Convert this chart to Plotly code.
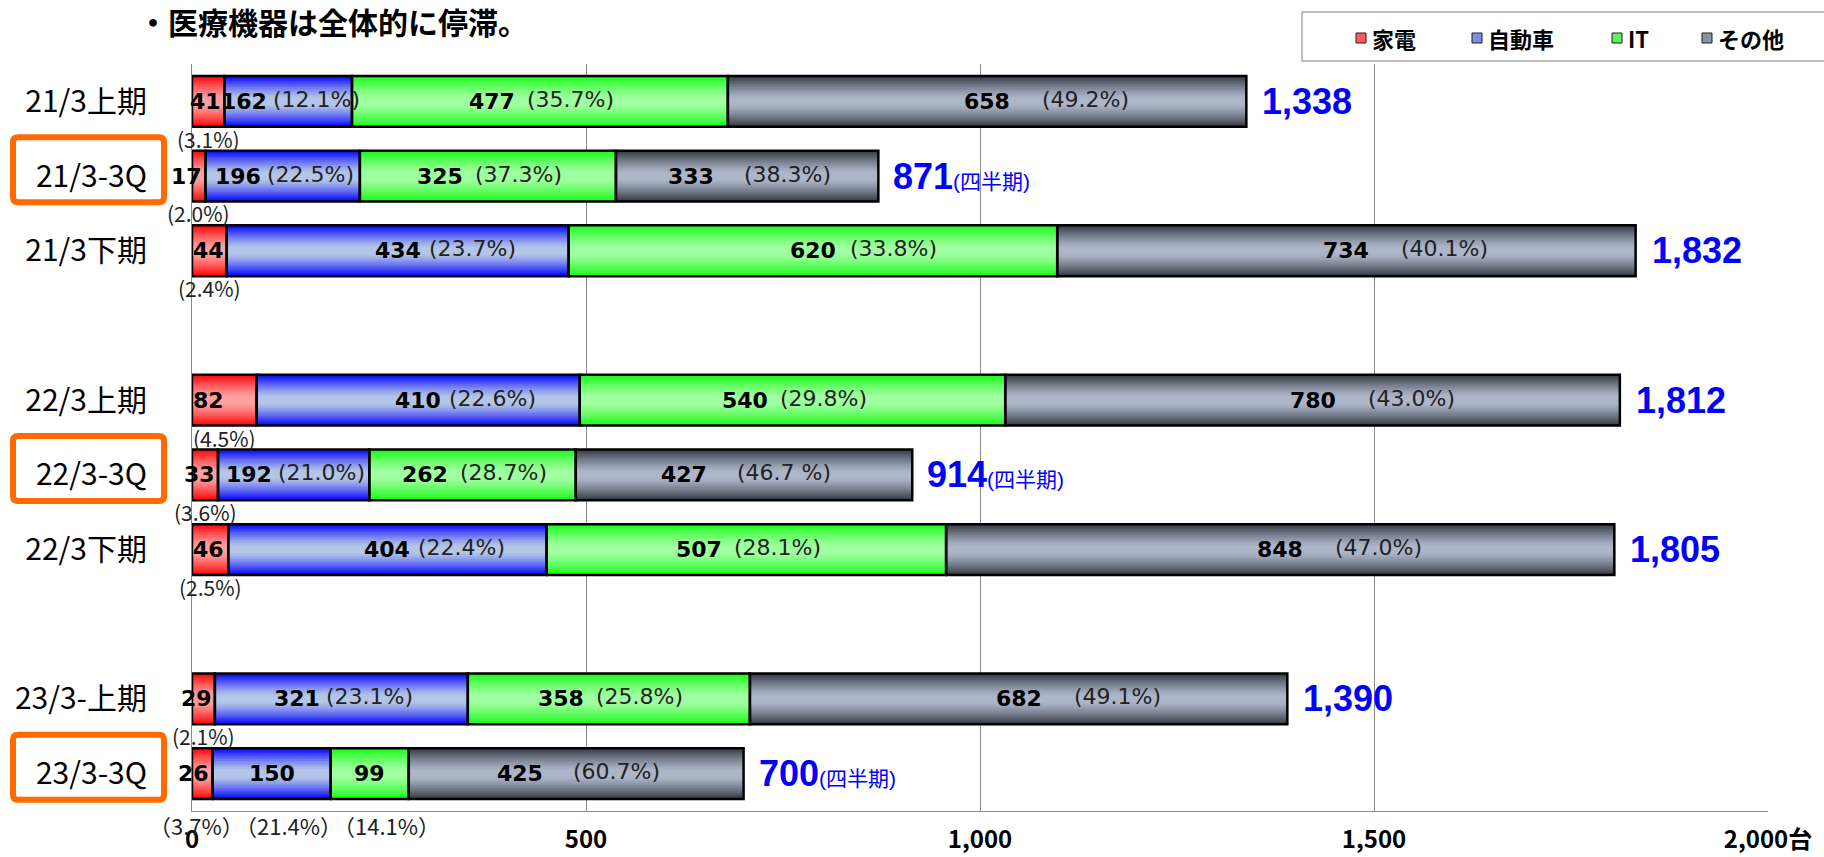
import plotly.graph_objects as go

# ---- data ---------------------------------------------------------------
categories = ["21/3上期", "21/3-3Q", "21/3下期",
              "22/3上期", "22/3-3Q", "22/3下期",
              "23/3-上期", "23/3-3Q"]
slots = [0, 1, 2, 4, 5, 6, 8, 9]          # row positions (blank rows between fiscal years)
quarter_rows = [False, True, False, False, True, False, False, True]

kaden = [41, 17, 44, 82, 33, 46, 29, 26]
jidosha = [162, 196, 434, 410, 192, 404, 321, 150]
it_vals = [477, 325, 620, 540, 262, 507, 358, 99]
sonota = [658, 333, 734, 780, 427, 848, 682, 425]

kaden_pct = ["3.1", "2.0", "2.4", "4.5", "3.6", "2.5", "2.1", "3.7"]
jidosha_pct = ["12.1", "22.5", "23.7", "22.6", "21.0", "22.4", "23.1", "21.4"]
it_pct = ["35.7", "37.3", "33.8", "29.8", "28.7", "28.1", "25.8", "14.1"]
sonota_pct = ["49.2", "38.3", "40.1", "43.0", "46.7 ", "47.0", "49.1", "60.7"]

x_ticks = [0, 500, 1000, 1500, 2000]
x_ticktext = ["0", "500", "1,000", "1,500", "2,000台"]

legend_names = ["家電", "自動車", "IT", "その他"]

# ---- styling ------------------------------------------------------------
W = 0.68                 # bar thickness in row units
N_LAYERS = 16            # layers used to shade each bar
PLOT_L, PLOT_R, PLOT_T, PLOT_B = 192, 1768, 64, 811
FIG_W, FIG_H = 1824, 857

series = [
    dict(name="kaden", vals=kaden, pct=kaden_pct, edge=(255, 0, 0), mid=(255, 160, 160),
         key="#ff5a5a", gap=0, split_at=None),
    dict(name="jidosha", vals=jidosha, pct=jidosha_pct, edge=(0, 0, 255), mid=(180, 198, 232),
         key="#7d8ee6", gap=6, split_at=400),
    dict(name="it", vals=it_vals, pct=it_pct, edge=(20, 250, 20), mid=(160, 255, 160),
         key="#5ef05e", gap=12, split_at=600),
    dict(name="sonota", vals=sonota, pct=sonota_pct, edge=(50, 56, 66), mid=(172, 182, 200),
         key="#8a93a3", gap=30, split_at=600),
]

totals = [sum(v) for v in zip(kaden, jidosha, it_vals, sonota)]


def blend(c1, c2, f):
    return "rgb(%d,%d,%d)" % tuple(round(a + (b - a) * f) for a, b in zip(c1, c2))


def light_frac(t):
    if t <= 0.12:
        return 1.0
    return max(0.0, 1 - ((t - 0.12) / 0.88) ** 1.25)


# approximate glyph advances (em) for width estimates of inline labels
BOLD_DIGIT = 0.696
REG = {"(": 0.39, ")": 0.39, ".": 0.318, "%": 0.95, " ": 0.318}
VAL_SIZE, PCT_SIZE = 22, 22


def value_width(s, size=VAL_SIZE):
    return len(s) * BOLD_DIGIT * size


def pct_width(s, size=PCT_SIZE):
    return sum(REG.get(ch, 0.636) for ch in s) * size


fig = go.Figure()

# cumulative starting points for each series
bases = []
running = [0] * len(categories)
for s in series:
    bases.append(list(running))
    running = [r + v for r, v in zip(running, s["vals"])]

# shaded bars: overlaid layers, narrower and lighter towards the centre line
for s, base in zip(series, bases):
    for k in range(N_LAYERS):
        h = 1 - k / N_LAYERS
        h_next = 1 - (k + 1) / N_LAYERS
        t = (h + h_next) / 2
        fig.add_trace(go.Bar(
            y=slots, x=s["vals"], base=base, orientation="h", width=W * h,
            marker=dict(color=blend(s["edge"], s["mid"], light_frac(t)), line_width=0),
            hoverinfo="skip", showlegend=False,
        ))

# black outlines of every segment
for s, base in zip(series, bases):
    fig.add_trace(go.Bar(
        y=slots, x=s["vals"], base=base, orientation="h", width=W,
        marker=dict(color="rgba(0,0,0,0)", line=dict(color="black", width=2.5)),
        hoverinfo="skip", showlegend=False,
    ))

ann = []
VAL_FONT = dict(family="DejaVu Sans", size=VAL_SIZE, color="black", weight="bold")
PCT_FONT = dict(family="DejaVu Sans", size=PCT_SIZE, color="#222222")
SMALL_FONT = dict(family="Noto Sans CJK JP", size=21, color="#222222")
AXIS_PCT_FONT = dict(family="Noto Sans CJK JP", size=22, color="#222222")
last_row = len(categories) - 1

for si, (s, base) in enumerate(zip(series, bases)):
    for i, (v, b, p) in enumerate(zip(s["vals"], base, s["pct"])):
        centre = b + v / 2
        y = slots[i]
        vtxt = str(v)
        ptxt = "(%s%%)" % p
        below_axis = (i == last_row and si < 3)

        if below_axis:
            # shares of the narrow segments sit under the axis line
            axis_txt = "（%s%%）" % p
            ann.append(dict(x=centre, y=9.5, text=axis_txt, xanchor="center", yanchor="top",
                            xshift=-6 if si == 0 else 17, yshift=4,
                            font=AXIS_PCT_FONT, showarrow=False))

        if si == 0:
            # small share: value hugging the segment end, share under the bar
            ann.append(dict(x=min(v, 45), y=y, text=vtxt, xanchor="right", yanchor="middle",
                            xshift=-1, font=VAL_FONT, showarrow=False))
            if not below_axis:
                ann.append(dict(x=centre, y=y + W / 2, text=ptxt, xanchor="center",
                                yanchor="top", yshift=5, font=SMALL_FONT, showarrow=False))
            continue

        if below_axis:
            ann.append(dict(x=centre, y=y, text=vtxt, xanchor="center", yanchor="middle",
                            font=VAL_FONT, showarrow=False))
            continue

        vw = value_width(vtxt)
        pw = pct_width(ptxt)
        if s["split_at"] is not None and v >= s["split_at"]:
            # value centred on the segment, share to its right
            ann.append(dict(x=centre, y=y, text=vtxt, xanchor="center", yanchor="middle",
                            font=VAL_FONT, showarrow=False))
            ann.append(dict(x=centre, y=y, text=ptxt, xanchor="left", yanchor="middle",
                            xshift=vw / 2 + s["gap"], yshift=2, font=PCT_FONT, showarrow=False))
        else:
            # value and share centred together
            total_w = vw + s["gap"] + pw
            ann.append(dict(x=centre, y=y, text=vtxt, xanchor="left", yanchor="middle",
                            xshift=-total_w / 2, font=VAL_FONT, showarrow=False))
            ann.append(dict(x=centre, y=y, text=ptxt, xanchor="left", yanchor="middle",
                            xshift=-total_w / 2 + vw + s["gap"], yshift=2,
                            font=PCT_FONT, showarrow=False))

# totals at the end of each bar
for i, tot in enumerate(totals):
    if quarter_rows[i]:
        txt = "<b>%s</b><span style='font-size:21px'>(四半期)</span>" % f"{tot:,}"
        shift = 13
    else:
        txt = "<b>%s</b>" % f"{tot:,}"
        shift = 14
    ann.append(dict(x=tot, y=slots[i], text=txt, xanchor="left", yanchor="middle",
                    xshift=shift, font=dict(family="Liberation Sans, Noto Sans CJK JP",
                                            size=36, color="#0000ff"),
                    showarrow=False))


def px_x(px):
    return (px - PLOT_L) / (PLOT_R - PLOT_L)


def px_y(py):
    return (PLOT_B - py) / (PLOT_B - PLOT_T)


# heading
ann.append(dict(x=px_x(136), y=px_y(21), xref="paper", yref="paper",
                text="・医療機器は全体的に停滞。", xanchor="left", yanchor="middle",
                font=dict(family="Noto Sans CJK JP", size=30, color="black", weight="bold"),
                showarrow=False))

shapes = []

# orange frames around the quarter rows
r_x, r_y = 5 / (PLOT_R - PLOT_L), 5 / ((PLOT_B - PLOT_T) / 10)
for i, q in enumerate(quarter_rows):
    if not q:
        continue
    x0, x1 = px_x(13), px_x(164)
    y0, y1 = slots[i] - 0.52, slots[i] + 0.35
    path = (f"M{x0 + r_x},{y0} L{x1 - r_x},{y0} Q{x1},{y0} {x1},{y0 + r_y} "
            f"L{x1},{y1 - r_y} Q{x1},{y1} {x1 - r_x},{y1} "
            f"L{x0 + r_x},{y1} Q{x0},{y1} {x0},{y1 - r_y} "
            f"L{x0},{y0 + r_y} Q{x0},{y0} {x0 + r_x},{y0} Z")
    shapes.append(dict(type="path", path=path, xref="paper", yref="y",
                       line=dict(color="#ff6a00", width=6), fillcolor="rgba(0,0,0,0)"))

# legend box
shapes.append(dict(type="rect", xref="paper", yref="paper",
                   x0=px_x(1302), x1=px_x(1832), y0=px_y(61), y1=px_y(12),
                   line=dict(color="#a8a8a8", width=1.5), fillcolor="white"))
key_x = [1356, 1472, 1612, 1702]
for s, name, kx in zip(series, legend_names, key_x):
    shapes.append(dict(type="rect", xref="paper", yref="paper",
                       x0=px_x(kx), x1=px_x(kx + 10), y0=px_y(43), y1=px_y(33),
                       line=dict(color="#202020", width=1), fillcolor=s["key"]))
    ann.append(dict(x=px_x(kx + 14), y=px_y(38), xref="paper", yref="paper", text=name,
                    xanchor="left", yanchor="middle",
                    font=dict(family="Noto Sans CJK JP", size=22, color="black", weight="bold"),
                    showarrow=False))

fig.update_layout(
    width=FIG_W, height=FIG_H,
    margin=dict(l=PLOT_L, r=FIG_W - PLOT_R, t=PLOT_T, b=FIG_H - PLOT_B, pad=0,
                autoexpand=False),
    paper_bgcolor="white", plot_bgcolor="white",
    barmode="overlay", showlegend=False,
    annotations=ann, shapes=shapes,
    xaxis=dict(range=[0, 2000], tickvals=x_ticks, ticktext=x_ticktext,
               tickfont=dict(family="Noto Sans CJK JP", size=24, color="black", weight="bold"),
               showgrid=True, gridcolor="#8a8a8a", gridwidth=1, zeroline=False,
               showline=True, linecolor="#8a8a8a", linewidth=1, ticks="",
               ticklabelstandoff=7, automargin=False, fixedrange=True),
    yaxis=dict(range=[9.5, -0.5], tickvals=slots, ticktext=categories,
               tickfont=dict(family="Noto Sans CJK JP", size=30, color="black"),
               showgrid=False, zeroline=False, showline=True, linecolor="#8a8a8a",
               linewidth=1, ticks="", ticklabelstandoff=38, automargin=False,
               fixedrange=True),
)

fig.write_html("out.html")
